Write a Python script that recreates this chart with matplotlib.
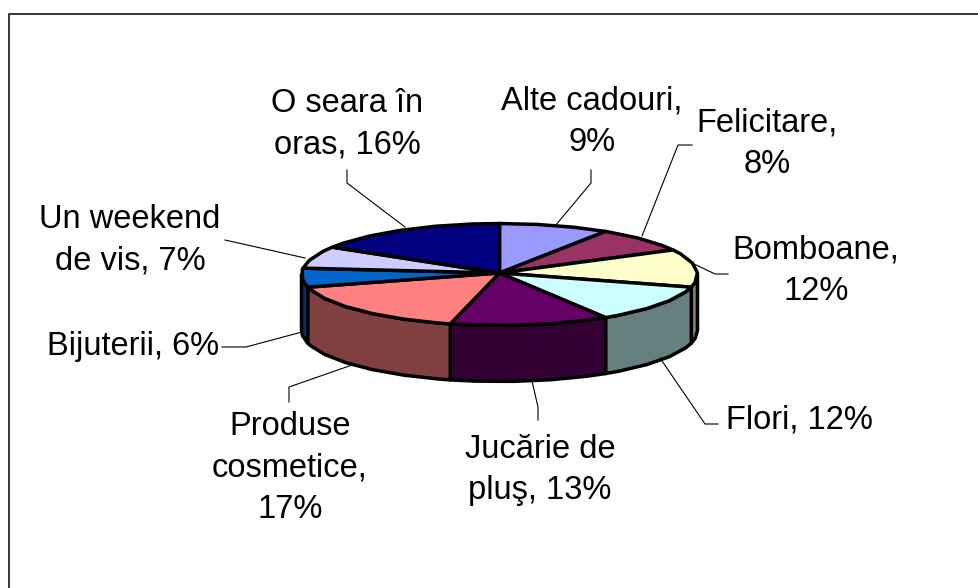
import matplotlib
matplotlib.use("Agg")
import matplotlib.pyplot as plt
import numpy as np
from matplotlib.patches import Polygon

plt.rcParams['font.family'] = ['Liberation Sans', 'DejaVu Sans']

labels = ["Alte cadouri,\n9%", "Felicitare,\n8%", "Bomboane,\n12%", "Flori, 12%",
          "Jucărie de\npluş, 13%", "Produse\ncosmetice,\n17%", "Bijuterii, 6%",
          "Un weekend\nde vis, 7%", "O seara în\noras, 16%"]
values = [9, 8, 12, 12, 13, 17, 6, 7, 16]
top_colors = ["#9999FF", "#993366", "#FFFFCC", "#CCFFFF", "#660066",
              "#FF8080", "#0066CC", "#CCCCFF", "#000080"]
side_colors = ["#4C4C80", "#4C1933", "#808066", "#668080", "#330033",
               "#804040", "#003366", "#666680", "#000040"]

# pozitii etichete + linii de legatura, in pixeli
label_xy = [(592, 122), (767, 144), (816, 271), (799, 420), (540, 470),
            (290, 468), (133, 346), (130, 240), (347, 124)]
leaders = [[(591, 170), (591, 183), (555, 226)],
           [(692, 145), (678, 145), (642, 236)],
           [(728, 274), (715, 274), (692, 263)],
           [(718, 424), (705, 424), (660, 358)],
           [(538, 420), (538, 407), (532, 381)],
           [(289, 402), (289, 387), (355, 364)],
           [(222, 347), (246, 347), (302, 332)],
           [(225, 240), (305, 258)],
           [(347, 170), (347, 183), (405, 227)]]

cx, cy = 499.5, 274.5
rx, ry = 198, 51
depth = 56
step = 11


def rim(a):
    a = np.radians(a)
    return np.column_stack((cx + rx * np.sin(a), cy - ry * np.cos(a)))


def arc(a0, a1):
    # unghiuri din pas fix, ca marginea sa iasa coltoasa ca in original
    mid = np.arange(np.ceil(a0 / step) * step, a1, step)
    mid = mid[mid > a0]
    return rim(np.concatenate(([a0], mid, [a1])))


fig = plt.figure(figsize=(9.79, 5.88), dpi=100)
ax = fig.add_axes([0, 0, 1, 1])
ax.set_xlim(0, 979)
ax.set_ylim(588, 0)
ax.axis('off')

# chenar, doar sus si stanga
ax.plot([979, 9.5, 9.5], [13.5, 13.5, 588], color='black', lw=1.1)

edges = np.cumsum([0] + values) / sum(values) * 360
lw = 2.5

# laterale (doar jumatatea din fata)
for i in range(len(values)):
    a0, a1 = max(edges[i], 90), min(edges[i + 1], 270)
    if a1 <= a0:
        continue
    upper = arc(a0, a1)
    lower = upper[::-1] + [0, depth]
    ax.add_patch(Polygon(np.vstack((upper, lower)), closed=True, fc=side_colors[i],
                         ec='black', lw=lw, joinstyle='round'))

# feliile de sus
for i in range(len(values)):
    pts = np.vstack(([cx, cy - 1.5], arc(edges[i], edges[i + 1])))
    ax.add_patch(Polygon(pts, closed=True, fc=top_colors[i], ec='black', lw=lw,
                         joinstyle='round'))

for pts in leaders:
    xs, ys = zip(*pts)
    ax.plot(xs, ys, color='black', lw=0.8, zorder=1)

for lab, (x, y) in zip(labels, label_xy):
    ax.text(x, y, lab, ha='center', va='center', fontsize=23.5, linespacing=1.43,
            color='black')

fig.savefig("out.png", dpi=100)
